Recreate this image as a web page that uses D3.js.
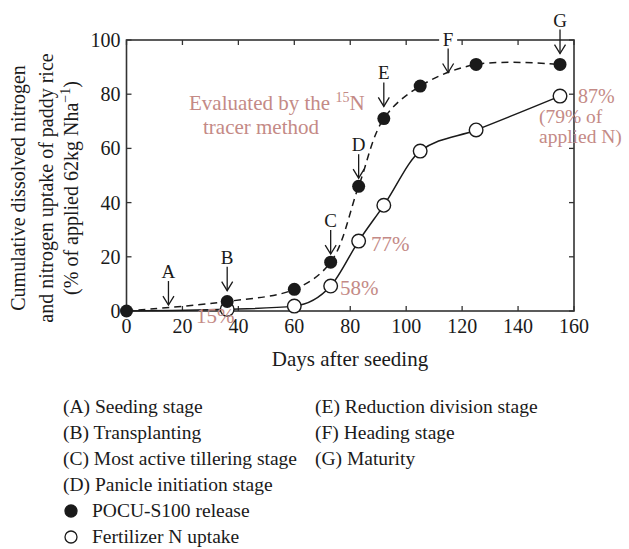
<!DOCTYPE html>
<html>
<head>
<meta charset="utf-8">
<script src="https://cdn.jsdelivr.net/npm/d3@7"></script>
<style>
  body { margin: 0; background: #fff; }
  text { font-family: "Liberation Serif", "DejaVu Serif", serif; }
</style>
</head>
<body>
<div class="chart"></div>
<script>
// POCU-S100 release (filled) and fertilizer N uptake (open)
var releaseDays = [0, 36, 60, 73, 83, 92, 105, 125, 155]
var releaseVals = [0, 3.5, 8, 18, 46, 71, 83, 91, 91]
var uptakeDays = [0, 36, 60, 73, 83, 92, 105, 125, 155]
var uptakeVals = [0, 0.6, 1.8, 9.2, 25.8, 39, 59, 66.8, 79.3]

// growth stage arrows
var stageLetters = ["A", "B", "C", "D", "E", "F", "G"]
var stageDays = [15, 36, 73, 83, 92, 115, 155]
var stageTips = [2.2, 7.5, 21, 49, 75.5, 88, 95]

var xTicks = [0, 20, 40, 60, 80, 100, 120, 140, 160]
var yTicks = [0, 20, 40, 60, 80, 100]

var legendLeft = ["(A) Seeding stage", "(B) Transplanting", "(C) Most active tillering stage", "(D) Panicle initiation stage"]
var legendRight = ["(E) Reduction division stage", "(F) Heading stage", "(G) Maturity"]
var legendMarks = ["POCU-S100 release", "Fertilizer N uptake"]

var pink = "#c48a86"
var ink = "#1a1a1a"

var svg = d3.select(".chart")
  .append("svg")
  .attr("width", 629)
  .attr("height", 549)

var x = d3.scaleLinear().domain([0, 160]).range([126.5, 574])
var y = d3.scaleLinear().domain([0, 100]).range([311, 40])

// frame
svg.append("rect")
  .attr("x", x(0)).attr("y", y(100))
  .attr("width", x(160) - x(0)).attr("height", y(0) - y(100))
  .style("fill", "none").style("stroke", "#333").style("stroke-width", 1.6)

// ticks inward on all sides
xTicks.forEach(function (t) {
  svg.append("line").attr("x1", x(t)).attr("x2", x(t)).attr("y1", y(0)).attr("y2", y(0) - 5)
    .style("stroke", "#333").style("stroke-width", 1.3)
  svg.append("line").attr("x1", x(t)).attr("x2", x(t)).attr("y1", y(100)).attr("y2", y(100) + 5)
    .style("stroke", "#333").style("stroke-width", 1.3)
  svg.append("text").attr("x", x(t)).attr("y", 333)
    .attr("text-anchor", "middle").style("font-size", "20px").attr("fill", ink).text(t)
})
yTicks.forEach(function (t) {
  svg.append("line").attr("x1", x(0)).attr("x2", x(0) + 5).attr("y1", y(t)).attr("y2", y(t))
    .style("stroke", "#333").style("stroke-width", 1.3)
  svg.append("line").attr("x1", x(160)).attr("x2", x(160) - 5).attr("y1", y(t)).attr("y2", y(t))
    .style("stroke", "#333").style("stroke-width", 1.3)
  svg.append("text").attr("x", x(0) - 6).attr("y", y(t) + 7)
    .attr("text-anchor", "end").style("font-size", "20px").attr("fill", ink).text(t)
})

// axis titles
svg.append("text").attr("x", 350).attr("y", 366)
  .attr("text-anchor", "middle").style("font-size", "21px").attr("fill", ink)
  .text("Days after seeding")

var yTitle = svg.append("g").attr("transform", "translate(0,188) rotate(-90)")
yTitle.append("text").attr("x", 0).attr("y", 25).attr("text-anchor", "middle")
  .style("font-size", "20px").attr("fill", ink).text("Cumulative dissolved nitrogen")
yTitle.append("text").attr("x", 0).attr("y", 53).attr("text-anchor", "middle")
  .style("font-size", "20px").attr("fill", ink).text("and nitrogen uptake of paddy rice")
var t3 = yTitle.append("text").attr("x", 0).attr("y", 78).attr("text-anchor", "middle")
  .style("font-size", "20px").attr("fill", ink)
t3.append("tspan").text("(% of applied 62kg Nha")
t3.append("tspan").attr("dy", -8).style("font-size", "14px").text("\u22121")
t3.append("tspan").attr("dy", 8).text(")")

// lines
var solid = d3.line().curve(d3.curveMonotoneX)
var dashed = d3.line().curve(d3.curveCatmullRom.alpha(0.5))
svg.append("path")
  .attr("d", solid(uptakeDays.map(function (d, i) { return [x(d), y(uptakeVals[i])] })))
  .style("fill", "none").style("stroke", ink).style("stroke-width", 1.5)
svg.append("path")
  .attr("d", dashed(releaseDays.map(function (d, i) { return [x(d), y(releaseVals[i])] })))
  .style("fill", "none").style("stroke", ink).style("stroke-width", 1.5)
  .style("stroke-dasharray", "7,5")

// points
uptakeDays.forEach(function (d, i) {
  if (i == 0) return
  svg.append("circle").attr("cx", x(d)).attr("cy", y(uptakeVals[i])).attr("r", 6.8)
    .style("fill", "#fff").style("stroke", ink).style("stroke-width", 1.4)
})
releaseDays.forEach(function (d, i) {
  svg.append("circle").attr("cx", x(d)).attr("cy", y(releaseVals[i])).attr("r", 6.5)
    .style("fill", ink)
})

// stage arrows
stageLetters.forEach(function (s, i) {
  var cx = x(stageDays[i])
  var tip = y(stageTips[i])
  svg.append("line").attr("x1", cx).attr("x2", cx).attr("y1", tip - 24).attr("y2", tip)
    .style("stroke", ink).style("stroke-width", 1.3)
  svg.append("path").attr("d", "M" + (cx - 5.5) + "," + (tip - 9) + " L" + cx + "," + tip + " L" + (cx + 5.5) + "," + (tip - 9))
    .style("fill", "none").style("stroke", ink).style("stroke-width", 1.3)
  if (s == "F") {
    svg.append("rect").attr("x", cx - 9).attr("y", tip - 42).attr("width", 18).attr("height", 16)
      .style("fill", "#fff")
  }
  svg.append("text").attr("x", cx).attr("y", tip - 27)
    .attr("text-anchor", "middle").style("font-size", "19px").attr("fill", ink).text(s)
})

// annotations
var ev = svg.append("text").attr("x", 189).attr("y", 110)
  .style("font-size", "21px").attr("fill", pink)
ev.append("tspan").text("Evaluated by the ")
ev.append("tspan").attr("dy", -8).style("font-size", "14px").text("15")
ev.append("tspan").attr("dy", 8).text("N")
svg.append("text").attr("x", 203).attr("y", 134)
  .style("font-size", "21px").attr("fill", pink).text("tracer method")

svg.append("text").attr("x", 196).attr("y", 323).style("font-size", "21px").attr("fill", pink).text("15%")
svg.append("text").attr("x", 340).attr("y", 295).style("font-size", "21px").attr("fill", pink).text("58%")
svg.append("text").attr("x", 371).attr("y", 251).style("font-size", "21px").attr("fill", pink).text("77%")
svg.append("text").attr("x", 578).attr("y", 103).style("font-size", "20px").attr("fill", pink).text("87%")
svg.append("text").attr("x", 539).attr("y", 123).style("font-size", "19.5px").attr("fill", pink).text("(79% of")
svg.append("text").attr("x", 539).attr("y", 143).style("font-size", "19.5px").attr("fill", pink).text("applied N)")

// legend
legendLeft.forEach(function (s, i) {
  svg.append("text").attr("x", 63).attr("y", 413 + i * 26)
    .style("font-size", "19.5px").attr("fill", ink).text(s)
})
legendRight.forEach(function (s, i) {
  svg.append("text").attr("x", 315).attr("y", 413 + i * 26)
    .style("font-size", "19.5px").attr("fill", ink).text(s)
})
legendMarks.forEach(function (s, i) {
  var ly = 413 + (4 + i) * 26
  svg.append("circle").attr("cx", 71).attr("cy", ly - 6).attr("r", 6)
    .style("fill", i == 0 ? ink : "#fff").style("stroke", ink).style("stroke-width", 1.3)
  svg.append("text").attr("x", 92).attr("y", ly)
    .style("font-size", "19.5px").attr("fill", ink).text(s)
})
</script>
</body>
</html>
